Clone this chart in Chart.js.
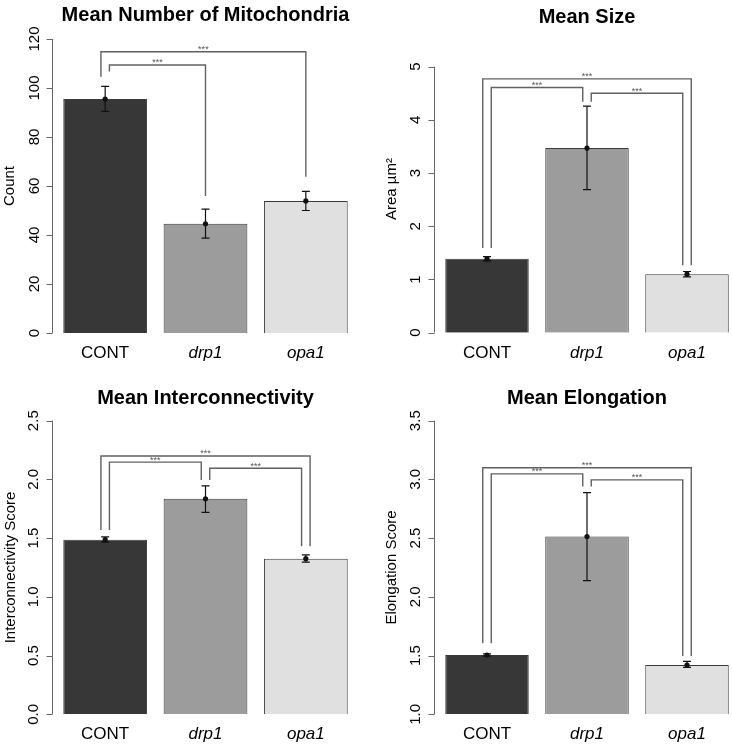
<!DOCTYPE html>
<html>
<head>
<meta charset="utf-8">
<script src="https://cdn.jsdelivr.net/npm/chart.js@4.4.1/dist/chart.umd.min.js"></script>
<style>
  html, body { margin: 0; padding: 0; background: #fff; overflow: hidden; }
  #wrap { position: relative; width: 732px; height: 750px; overflow: hidden; }
  canvas { position: absolute; }
</style>
</head>
<body>
<div id="wrap">
  <canvas id="countChart" width="366" height="375" style="left:0;top:0"></canvas>
  <canvas id="sizeChart" width="372" height="375" style="left:366px;top:0"></canvas>
  <canvas id="connChart" width="366" height="375" style="left:0;top:375px"></canvas>
  <canvas id="elongChart" width="372" height="375" style="left:366px;top:375px"></canvas>
</div>
<script>
const FONT = '"Liberation Sans", Arial, sans-serif';

const groups = ['CONT', 'drp1', 'opa1'];
const barColors = ['#373737', '#9c9c9c', '#e0e0e0'];

// significance brackets: [from bar, to bar, bracket height, left leg end, right leg end]

// Mean Number of Mitochondria
const countMean = [95.5, 44.6, 53.9];
const countLow = [90.5, 38.7, 50.0];
const countHigh = [100.7, 50.6, 57.8];
const countTicks = ['0', '20', '40', '60', '80', '100', '120'];
const countSig = [[0, 1, 109.4, 106.7, 55.9], [0, 2, 114.8, 104.6, 63.8]];

// Mean Size
const sizeMean = [1.39, 3.47, 1.10];
const sizeLow = [1.35, 2.69, 1.05];
const sizeHigh = [1.43, 4.26, 1.15];
const sizeTicks = ['0', '1', '2', '3', '4', '5'];
const sizeSig = [[0, 2, 4.77, 1.59, 1.27], [0, 1, 4.61, 1.59, 4.34], [1, 2, 4.50, 4.34, 1.27]];

// Mean Interconnectivity
const connMean = [1.487, 1.835, 1.325];
const connLow = [1.466, 1.72, 1.295];
const connHigh = [1.51, 1.945, 1.357];
const connTicks = ['0.0', '0.5', '1.0', '1.5', '2.0', '2.5'];
const connSig = [[0, 2, 2.20, 1.57, 1.43], [0, 1, 2.147, 1.57, 1.996], [1, 2, 2.095, 1.996, 1.43]];

// Mean Elongation
const elongMean = [1.505, 2.513, 1.42];
const elongLow = [1.495, 2.138, 1.40];
const elongHigh = [1.515, 2.888, 1.45];
const elongTicks = ['1.0', '1.5', '2.0', '2.5', '3.0', '3.5'];
const elongSig = [[0, 2, 3.10, 1.605, 1.497], [0, 1, 3.047, 1.605, 2.94], [1, 2, 2.996, 2.94, 1.497]];

Chart.defaults.font.family = FONT;

// spread the legs that land on the same bar so the brackets don't cross
function legOffsets(brackets) {
  const legs = {};
  brackets.forEach((b, k) => {
    [[b[0], b[1]], [b[1], b[0]]].forEach(([at, other], end) => {
      const key = other > at ? -(other - at) : -100 + (at - other);
      (legs[at] = legs[at] || []).push({ k, end, key });
    });
  });
  const off = brackets.map(() => [0, 0]);
  Object.values(legs).forEach(list => {
    list.sort((a, b) => a.key - b.key);
    list.forEach((l, i) => { off[l.k][l.end] = (i - (list.length - 1) / 2) * 8.5; });
  });
  return off;
}

const extrasPlugin = {
  id: 'extras',
  afterDatasetsDraw(chart, args, opts) {
    const ctx = chart.ctx;
    const xs = chart.scales.x, ys = chart.scales.y;
    const area = chart.chartArea;
    ctx.save();

    // R style y axis: line only between first and last tick, labels turned
    const ax = Math.round(area.left - 3) + 0.5;
    const ticks = ys.ticks;
    ctx.strokeStyle = '#666';
    ctx.lineWidth = 1;
    ctx.beginPath();
    ctx.moveTo(ax, ys.getPixelForValue(ticks[0].value));
    ctx.lineTo(ax, ys.getPixelForValue(ticks[ticks.length - 1].value));
    ticks.forEach(t => {
      const py = Math.round(ys.getPixelForValue(t.value)) + 0.5;
      ctx.moveTo(ax, py);
      ctx.lineTo(ax - 6, py);
    });
    ctx.stroke();

    ctx.fillStyle = '#000';
    ctx.font = '15px ' + FONT;
    ctx.textAlign = 'center';
    ctx.textBaseline = 'middle';
    ticks.forEach((t, i) => {
      ctx.save();
      ctx.translate(opts.labelX, ys.getPixelForValue(t.value));
      ctx.rotate(-Math.PI / 2);
      ctx.fillText(opts.tickLabels[i], 0, 0);
      ctx.restore();
    });

    // error bars
    ctx.strokeStyle = '#111';
    ctx.fillStyle = '#111';
    ctx.lineWidth = 1.2;
    chart.data.datasets[0].data.forEach((v, i) => {
      const px = xs.getPixelForValue(i);
      const lo = ys.getPixelForValue(opts.low[i]);
      const hi = ys.getPixelForValue(opts.high[i]);
      ctx.beginPath();
      ctx.moveTo(px, lo); ctx.lineTo(px, hi);
      ctx.moveTo(px - 4, lo); ctx.lineTo(px + 4, lo);
      ctx.moveTo(px - 4, hi); ctx.lineTo(px + 4, hi);
      ctx.stroke();
      ctx.beginPath();
      ctx.arc(px, ys.getPixelForValue(v), 2.6, 0, Math.PI * 2);
      ctx.fill();
    });

    // significance brackets
    const off = legOffsets(opts.brackets);
    ctx.strokeStyle = '#616161';
    ctx.lineWidth = 1.4;
    ctx.font = '9px ' + FONT;
    ctx.fillStyle = '#555';
    ctx.textAlign = 'center';
    ctx.textBaseline = 'alphabetic';
    opts.brackets.forEach((b, k) => {
      const x1 = xs.getPixelForValue(b[0]) + off[k][0];
      const x2 = xs.getPixelForValue(b[1]) + off[k][1];
      const top = ys.getPixelForValue(b[2]);
      ctx.beginPath();
      ctx.moveTo(x1, ys.getPixelForValue(b[3]));
      ctx.lineTo(x1, top);
      ctx.lineTo(x2, top);
      ctx.lineTo(x2, ys.getPixelForValue(b[4]));
      ctx.stroke();
      ctx.fillText('***', (x1 + x2) / 2, top + 0.5);
    });
    ctx.restore();
  }
};

function makeChart(id, p) {
  return new Chart(document.getElementById(id), {
    type: 'bar',
    data: {
      labels: groups,
      datasets: [{
        data: p.mean,
        backgroundColor: barColors,
        borderColor: '#3a3a3a',
        borderWidth: 1,
        base: p.min,
        barPercentage: 0.835,
        categoryPercentage: 1
      }]
    },
    options: {
      responsive: false,
      animation: false,
      devicePixelRatio: 1,
      layout: { padding: { left: 0, right: p.padRight, top: 0, bottom: 0 } },
      plugins: {
        legend: { display: false },
        tooltip: { enabled: false },
        title: {
          display: true,
          text: p.title,
          fullSize: false,
          color: '#000',
          font: { size: 20, weight: 'bold', lineHeight: 1.2 },
          padding: { top: p.titleTop, bottom: p.areaTop - p.titleTop - 24 }
        },
        extras: { low: p.low, high: p.high, brackets: p.sig, tickLabels: p.ticks, labelX: p.labelX }
      },
      scales: {
        x: {
          grid: { display: false },
          border: { display: false },
          ticks: {
            color: '#000',
            padding: 2,
            font: c => ({ size: 17, style: c.index > 0 ? 'italic' : 'normal' })
          },
          afterFit: s => { s.height = 375 - p.areaBottom; }
        },
        y: {
          min: p.min,
          max: p.max,
          grid: { display: false },
          border: { display: false },
          afterBuildTicks: s => { s.ticks = p.ticks.map(t => ({ value: parseFloat(t) })); },
          ticks: { display: false },
          title: {
            display: true,
            text: p.yTitle,
            color: '#000',
            font: { size: 15 },
            padding: { top: p.yTitlePad, bottom: 0 }
          },
          afterFit: s => { s.width = p.areaLeft; }
        }
      }
    },
    plugins: [extrasPlugin]
  });
}

makeChart('countChart', {
  title: 'Mean Number of Mitochondria', yTitle: 'Count',
  mean: countMean, low: countLow, high: countHigh, ticks: countTicks, sig: countSig,
  min: 0, max: 120,
  areaLeft: 55, padRight: 10, areaTop: 39, areaBottom: 333, titleTop: 3.5, labelX: 34.5, yTitlePad: 1
});

makeChart('sizeChart', {
  title: 'Mean Size', yTitle: 'Area \u00b5m\u00b2',
  mean: sizeMean, low: sizeLow, high: sizeHigh, ticks: sizeTicks, sig: sizeSig,
  min: 0, max: 5.4,
  areaLeft: 71, padRight: 1, areaTop: 45.4, areaBottom: 332.7, titleTop: 5, labelX: 50, yTitlePad: 17
});

makeChart('connChart', {
  title: 'Mean Interconnectivity', yTitle: 'Interconnectivity Score',
  mean: connMean, low: connLow, high: connHigh, ticks: connTicks, sig: connSig,
  min: 0, max: 2.5,
  areaLeft: 55, padRight: 10, areaTop: 45.7, areaBottom: 339.3, titleTop: 11, labelX: 34, yTitlePad: 2
});

makeChart('elongChart', {
  title: 'Mean Elongation', yTitle: 'Elongation Score',
  mean: elongMean, low: elongLow, high: elongHigh, ticks: elongTicks, sig: elongSig,
  min: 1.0, max: 3.5,
  areaLeft: 71, padRight: 1, areaTop: 45.7, areaBottom: 339.3, titleTop: 11, labelX: 50, yTitlePad: 17
});
</script>
</body>
</html>
